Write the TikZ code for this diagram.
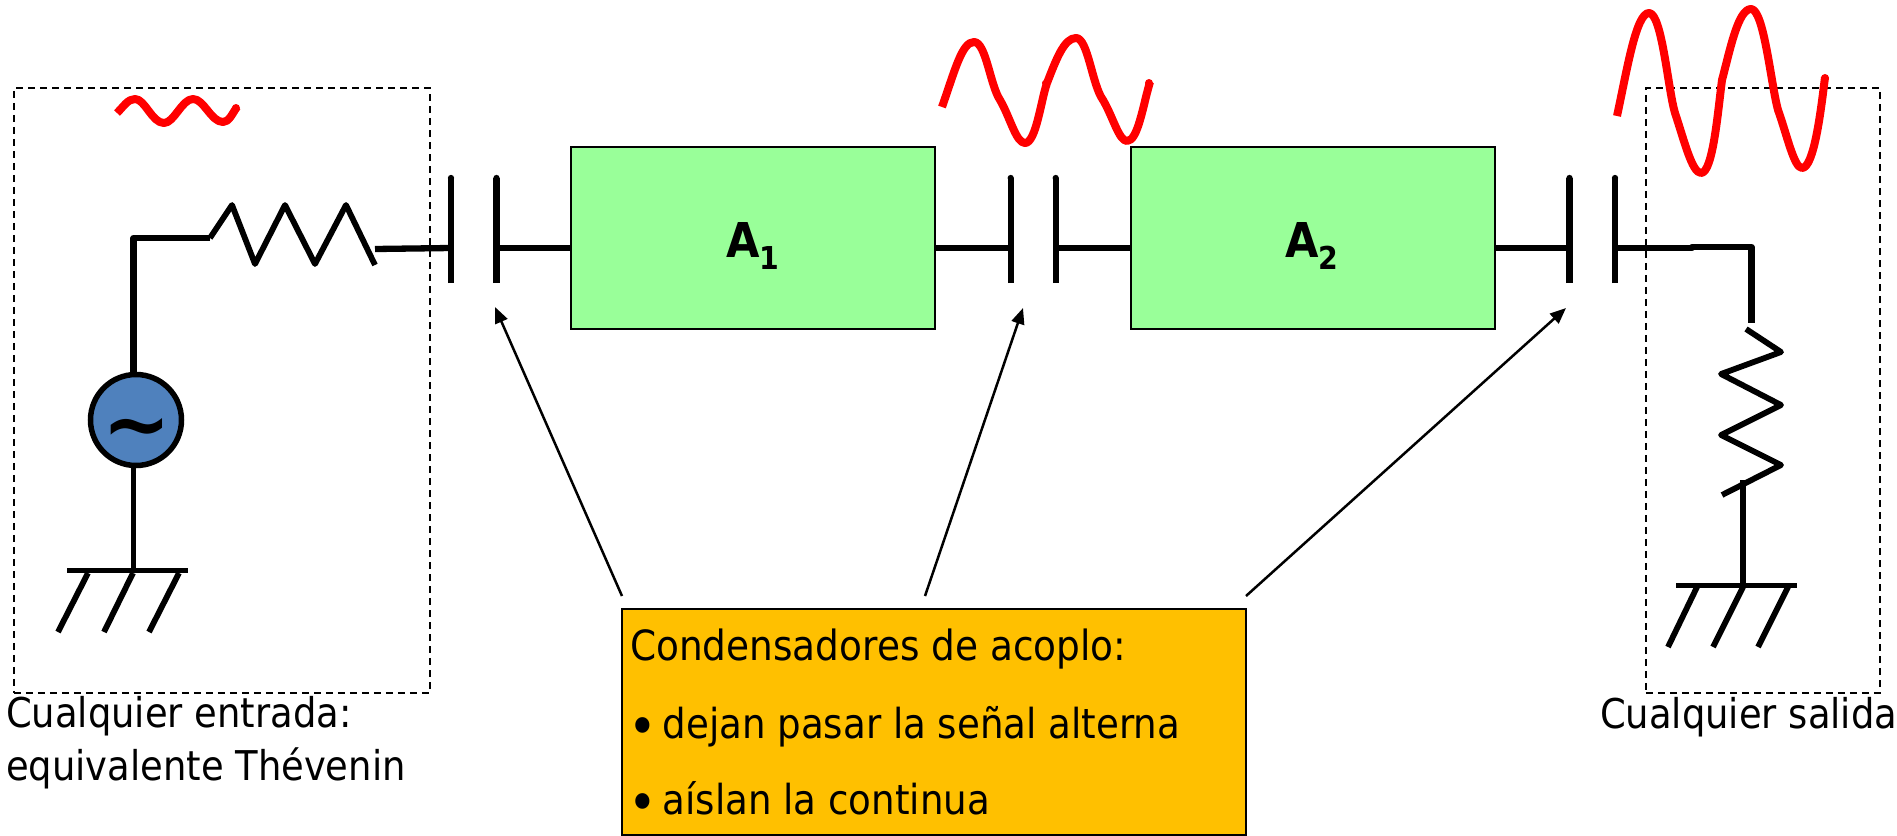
\documentclass[tikz,border=0pt]{standalone}
\usepackage{fontspec}
\setmainfont{DejaVu Sans Condensed}
\newfontfamily\labelfont{DejaVu Sans}
\usetikzlibrary{arrows.meta}
\definecolor{ampgreen}{HTML}{99FF99}
\definecolor{notegold}{HTML}{FFC000}
\definecolor{srcblue}{HTML}{4F81BD}
\tikzset{
  x=1pt,y=-1pt,
  wire/.style={line width=6.3pt,line join=round},
  thinwire/.style={line width=5.8pt,line join=round},
  plate/.style={line width=6.3pt},
  wave/.style={red,line width=8pt,line join=round},
  groundline/.style={line width=5.8pt},
  dashbox/.style={draw,line width=1.8pt,dash pattern=on 7pt off 5pt},
  ampbox/.style={draw,line width=2pt,fill=ampgreen,minimum width=364pt,minimum height=182pt,inner sep=0pt},
  amplabel/.style={font=\bfseries\fontsize{48}{50}\selectfont,inner sep=0pt,anchor=base west},
  sig/.style={font=\fontsize{41}{44}\selectfont,inner sep=0pt,anchor=base west},
  notetext/.style={font=\fontsize{41.6}{44}\selectfont,inner sep=0pt,anchor=base west},
  notebullet/.style={font=\fontsize{41.3}{44}\selectfont,inner sep=0pt,anchor=base west},
  callout/.style={-{Triangle[length=16pt,width=13pt]},line width=2.5pt},
}
\newcommand{\Aname}[1]{A{\fontsize{31.5}{32}\selectfont\raisebox{-12pt}{#1}}}
\newcommand{\bigbullet}{\makebox[34.5pt][l]{\raisebox{-7pt}{\fontsize{54}{54}\selectfont •}}}
\begin{document}
\begin{tikzpicture}
\useasboundingbox (0,0) rectangle (1897,835);
% dashed boxes
\node[dashbox,minimum width=416pt,minimum height=605pt,inner sep=0pt,anchor=north west] (inbox) at (13,87) {};
\node[dashbox,minimum width=234pt,minimum height=605pt,inner sep=0pt,anchor=north west] (outbox) at (1645,87) {};
% amplifiers
\node[ampbox] (A1) at (753,238) {};
\node[ampbox] (A2) at (1312.5,238) {};
\node[amplabel] (A1t) at (726,257) {\Aname{1}};
\node[amplabel] (A2t) at (1285,257) {\Aname{2}};
% capacitor plates
\foreach \n/\xa/\xb in {c1/451/496.5,c2/1010.7/1055.7,c3/1569.5/1615}{
  \coordinate (\n at) at (\xa,178); \coordinate (\n ab) at (\xa,283);
  \coordinate (\n bt) at (\xb,178); \coordinate (\n bb) at (\xb,283);
  \coordinate (\n a) at (\xa,248); \coordinate (\n b) at (\xb,248);
  \draw[plate] (\n ab) -- (\n at);
  \draw[plate] (\n bb) -- (\n bt);
  \fill (\xa,178) circle (3.15pt) (\xb,178) circle (3.15pt);
}
\coordinate (A1w) at (571,248); \coordinate (A1e) at (935,248);
\coordinate (A2w) at (1131,248); \coordinate (A2e) at (1494,248);
\draw[wire] (c1b) -- (A1w) (A1e) -- (c2a) (c2b) -- (A2w) (A2e) -- (c3a);
% source
\node[circle,draw,line width=5.5pt,fill=srcblue,minimum size=91pt,inner sep=0pt] (src) at (136,420) {};
\node[inner sep=0pt,font=\labelfont\bfseries\fontsize{82}{82}\selectfont] (tilde) at (136.5,435) {\char"7E};
\coordinate (r1s) at (210,238);
\coordinate (r1e) at (375,265);
\coordinate (gnd1) at (133.5,570);
\draw[wire] (r1s) -- (133.5,238) -- (133.5,375);
\draw[thinwire] (133.5,465) -- (gnd1);
\draw[thinwire] (r1s) -- (232,205) -- (255,264) -- (285,205) -- (315,264) -- (346,205) -- (r1e);
\draw[wire] (375,249) -- (c1a);
% ground 1
\draw[groundline] (67,570.5) -- (188,570.5);
\draw[groundline] (88,573) -- (58,632) (133,573) -- (104,632) (179,573) -- (149,632);
% output
\coordinate (r2s) at (1746,329);
\coordinate (gnd2) at (1743,585);
\draw[wire] (c3b) -- (1692,248) -- (1692,247) -- (1751.5,247) -- (1751.5,323);
\draw[thinwire] (r2s) -- (1781,352) -- (1721,374) -- (1781,405) -- (1721,435) -- (1781,465) -- (1722,495);
\draw[thinwire] (1743,480) -- (gnd2);
\draw[groundline] (1676,585.5) -- (1797,585.5);
\draw[groundline] (1697,587) -- (1668,647) (1743,587) -- (1713,647) (1788,587) -- (1758,647);
% signals
\draw[wave] (117,113) .. controls (124,106) and (128,99) .. (135,99)
  .. controls (145,99) and (152,123) .. (164,123)
  .. controls (174,123) and (182,99) .. (193,99)
  .. controls (204,99) and (211,122) .. (223,122)
  .. controls (229,122) and (232,114) .. (237,107);
\fill[red] (236,108) circle (4pt);
\draw[wave] (942,107) .. controls (955,70) and (962,42) .. (974,42)
  .. controls (986,42) and (990,85) .. (1000,100)
  .. controls (1010,117) and (1016,143) .. (1025,143)
  .. controls (1036,143) and (1041,100) .. (1047,83)
  .. controls (1056,60) and (1064,38) .. (1076,38)
  .. controls (1088,38) and (1092,85) .. (1103,100)
  .. controls (1113,117) and (1119,141) .. (1127,141)
  .. controls (1138,141) and (1143,105) .. (1150,82);
\fill[red] (1149,83) circle (4pt) (1045,83) circle (3pt);
\draw[wave] (1617,116) .. controls (1627,70) and (1636,13) .. (1649,13)
  .. controls (1662,13) and (1668,90) .. (1675,113)
  .. controls (1684,140) and (1692,173) .. (1701,173)
  .. controls (1713,173) and (1718,110) .. (1722,80)
  .. controls (1730,50) and (1738,9) .. (1751,9)
  .. controls (1764,9) and (1771,85) .. (1778,110)
  .. controls (1787,135) and (1794,168) .. (1802,168)
  .. controls (1814,168) and (1821,110) .. (1825,77);
\fill[red] (1825,78) circle (4pt) (1721,80) circle (3pt);
% note
\node[draw,line width=2pt,fill=notegold,minimum width=624pt,minimum height=226pt,inner sep=0pt,anchor=north west] (note) at (621,608) {};
\node[notetext] (n1) at (630,660) {Condensadores de acoplo:};
\node[notebullet] (n2) at (628,738) {\bigbullet dejan pasar la señal alterna};
\node[notebullet] (n3) at (628,814) {\bigbullet aíslan la continua};
\coordinate (f1) at (622,596); \coordinate (f2) at (925,596); \coordinate (f3) at (1246,596);
\coordinate (t1) at (495,307); \coordinate (t2) at (1023,308); \coordinate (t3) at (1566,308);
\draw[callout] (f1) -- (t1);
\draw[callout] (f2) -- (t2);
\draw[callout] (f3) -- (t3);
% labels
\node[sig] (l1) at (6,727) {Cualquier entrada:};
\node[sig] (l2) at (6,780) {equivalente Thévenin};
\node[sig] (l3) at (1600,728) {Cualquier salida};
\end{tikzpicture}
\end{document}
